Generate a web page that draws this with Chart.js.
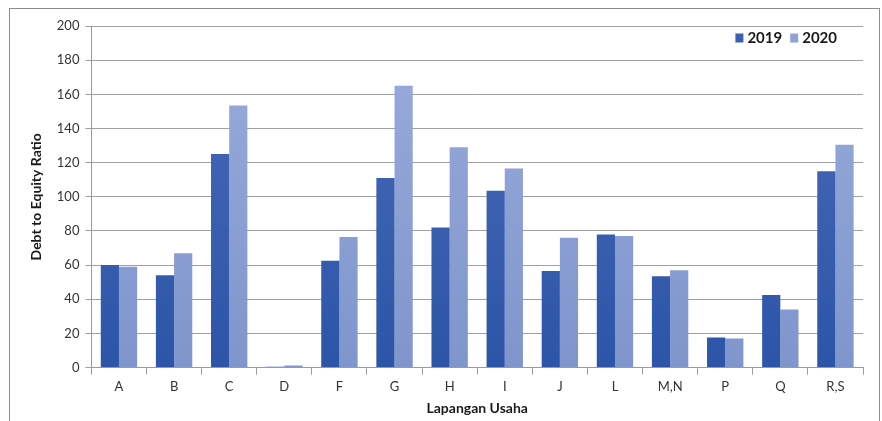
<!DOCTYPE html>
<html>
<head>
<meta charset="utf-8">
<script src="https://cdn.jsdelivr.net/npm/chart.js@4.4.1/dist/chart.umd.min.js"></script>
<style>
  html, body { margin: 0; padding: 0; background: #fff; }
  #frame { position: absolute; left: 9px; top: 8px; width: 871px; height: 420px; border: 1px solid #8c8c8c; box-sizing: border-box; }
  #c { position: absolute; left: 0; top: 0; }
</style>
</head>
<body>
<div id="frame"><canvas id="c" width="869" height="418"></canvas></div>
<script>
let categories = ['A', 'B', 'C', 'D', 'F', 'G', 'H', 'I', 'J', 'L', 'M,N', 'P', 'Q', 'R,S']
let values2019 = [60, 54, 125, 0.5, 62.5, 111, 82, 103.5, 56.5, 78, 53.5, 17.6, 42.5, 115]
let values2020 = [59, 67, 153.5, 1.2, 76.5, 165, 129, 116.5, 76, 77, 57, 17, 34, 130.5]
let yTicks = [0, 20, 40, 60, 80, 100, 120, 140, 160, 180, 200]

let fontFamily = 'Lato, "Open Sans", sans-serif'
let legendColors = ['#3a60b2', '#8ea2d6']

// vertical gradient per series
let makeFill = (top, bottom) => ctx => {
  let area = ctx.chart.chartArea
  if (!area) return bottom
  let g = ctx.chart.ctx.createLinearGradient(0, area.top, 0, area.bottom)
  g.addColorStop(0, top)
  g.addColorStop(1, bottom)
  return g
}

// legend sits inside the plot, top right
let insideLegend = {
  id: 'insideLegend',
  afterDraw(chart) {
    let ctx = chart.ctx
    let area = chart.chartArea
    ctx.save()
    ctx.font = 'bold 15px ' + fontFamily
    ctx.textBaseline = 'middle'
    let y = area.top + 12
    let x = area.right - 26
    let items = chart.data.datasets.map((d, i) => ({ text: d.label, color: legendColors[i] })).reverse()
    items.forEach(it => {
      let w = ctx.measureText(it.text).width
      x -= w
      ctx.fillStyle = '#1a1a1a'
      ctx.fillText(it.text, x, y)
      x -= 12
      ctx.fillStyle = it.color
      ctx.fillRect(x, y - 4.5, 8, 9)
      x -= 8
    })
    ctx.restore()
  }
}

let canvas = document.getElementById('c').getContext('2d')

new Chart(canvas, {
  type: 'bar',
  data: {
    labels: categories,
    datasets: [{
      label: '2019',
      data: values2019,
      backgroundColor: makeFill('#4a6cb8', '#2c55a8'),
      borderWidth: 0,
      categoryPercentage: 0.66,
      barPercentage: 1.0
    }, {
      label: '2020',
      data: values2020,
      backgroundColor: makeFill('#9aacdc', '#7f95cc'),
      borderWidth: 0,
      categoryPercentage: 0.66,
      barPercentage: 1.0
    }]
  },
  options: {
    responsive: false,
    animation: false,
    layout: { padding: { left: 14, right: 16, top: 17, bottom: 10 } },
    plugins: {
      tooltip: { enabled: false },
      legend: { display: false }
    },
    scales: {
      x: {
        grid: { display: true, drawOnChartArea: false, offset: true, tickLength: 7, color: '#9a9a9a' },
        border: { color: '#9a9a9a' },
        ticks: { color: '#333', font: { family: fontFamily, size: 13 }, padding: 4 },
        title: { display: true, text: 'Lapangan Usaha', color: '#1a1a1a', font: { family: fontFamily, size: 14, weight: 'bold' }, padding: { top: 2, bottom: 0 } }
      },
      y: {
        min: 0,
        max: 200,
        afterBuildTicks: axis => { axis.ticks = yTicks.map(v => ({ value: v })) },
        grid: { color: '#a0a0a0', tickLength: 6 },
        border: { color: '#9a9a9a' },
        ticks: { color: '#333', font: { family: fontFamily, size: 13 }, padding: 6 },
        title: { display: true, text: 'Debt to Equity Ratio', color: '#1a1a1a', font: { family: fontFamily, size: 14, weight: 'bold' }, padding: { bottom: 6 } }
      }
    }
  },
  plugins: [insideLegend]
})
</script>
</body>
</html>
